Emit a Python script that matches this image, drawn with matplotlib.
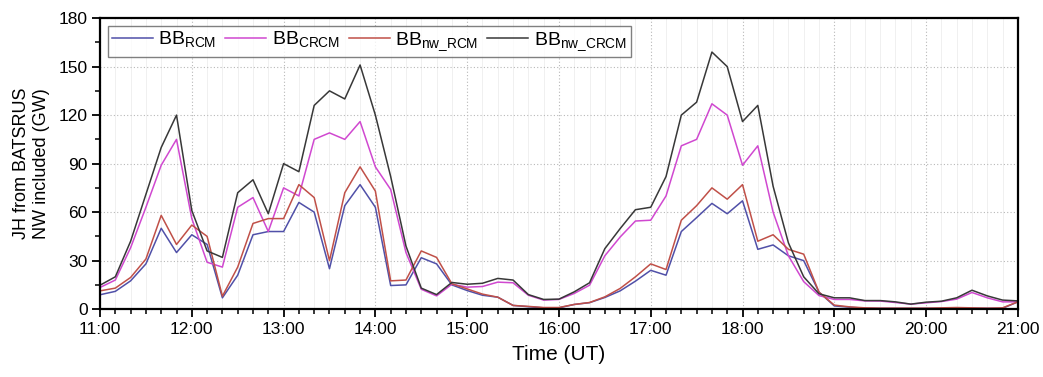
import matplotlib
matplotlib.use('Agg')
import matplotlib.pyplot as plt
from matplotlib.ticker import MultipleLocator, FuncFormatter

plt.rcParams['font.family'] = ['Liberation Sans', 'DejaVu Sans']
plt.rcParams['mathtext.fontset'] = 'custom'
plt.rcParams['mathtext.rm'] = 'Liberation Sans'

# 10-minute samples from 11:00 to 21:00 UT
start_hour = 11
step_min = 10

jh_rcm = [8.9, 11, 17.5, 28, 50, 35, 46, 40, 7, 21, 46, 48, 48, 66, 60, 25, 64, 77, 63,
          14.6, 15, 31.8, 28, 15, 11.5, 8.6, 7.4, 2.3, 1.5, 0.8, 0.8, 2.9, 4, 7.2, 11.3,
          17.3, 24, 21, 48, 56.6, 65.4, 59, 67, 37, 39.7, 33, 30, 10.5, 2, 1.2, 0.6, 0.5,
          0.5, 0.5, 0.5, 0.5, 0.5, 0.5, 0.5, 0.5, 4.5]
jh_crcm = [13.4, 18, 38, 63, 89, 105, 56, 29, 26, 63, 69, 48, 75, 70, 105, 109, 105, 116, 88,
           74, 35, 12.3, 8.2, 15.4, 13.6, 14, 16.7, 16.3, 8.6, 5.6, 6, 9.7, 14.8, 33, 44.6,
           54.5, 55, 70, 101, 105, 127, 120, 89, 101, 60, 33, 17, 8.4, 6, 6, 5.1, 5, 4.1,
           3.1, 3.9, 4.7, 6.2, 10.3, 7, 4.5, 4.5]
jh_nw_rcm = [11.3, 13, 19.6, 31, 58, 40, 52, 45, 8, 26, 53, 56, 56, 77, 69, 30, 72, 88, 73,
             17.5, 18, 36, 32, 15.7, 12.5, 9.3, 7.4, 2.3, 1.7, 1, 1, 2.9, 4.1, 7.6, 12.8,
             20, 28, 24.5, 55, 64, 75, 68, 77, 42, 46, 37, 34, 10.5, 2.5, 1.4, 0.8, 0.6,
             0.6, 0.6, 0.6, 0.8, 1, 0.8, 0.6, 0.8, 4.5]
jh_nw_crcm = [14.8, 20, 42, 71, 100, 120, 61, 36, 32, 72, 80, 59, 90, 85, 126, 135, 130, 151,
              120, 82, 39, 13, 9, 16.5, 15.4, 16, 19, 18, 9, 6, 6.2, 10.7, 16.3, 37.4, 49.8,
              61.5, 63, 82, 120, 128, 159, 150, 116, 126, 76, 41, 20, 9.5, 7, 7, 5.3, 5.3,
              4.5, 3.1, 4.3, 4.9, 7, 11.7, 8.2, 5.6, 5.1]

labels = ['BB$_{\\rm RCM}$', 'BB$_{\\rm CRCM}$', 'BB$_{\\rm nw\\_RCM}$', 'BB$_{\\rm nw\\_CRCM}$']
colors = ['#5050a8', '#d048d0', '#c05048', '#383838']

hours = [start_hour + i * step_min / 60 for i in range(len(jh_rcm))]

fig = plt.figure(figsize=(10.43, 3.77), dpi=100)
ax = fig.add_axes([0.0959, 0.180, 0.880, 0.772])

for series, lab, col in zip([jh_rcm, jh_crcm, jh_nw_rcm, jh_nw_crcm], labels, colors):
    ax.plot(hours, series, color=col, lw=1.1, label=lab)

ax.set_xlim(11, 21)
ax.set_ylim(0, 180)
ax.xaxis.set_major_locator(MultipleLocator(1))
ax.xaxis.set_minor_locator(MultipleLocator(1 / 6))
ax.yaxis.set_major_locator(MultipleLocator(30))
ax.yaxis.set_minor_locator(MultipleLocator(15))
ax.xaxis.set_major_formatter(FuncFormatter(lambda v, p: '%d:00' % round(v)))

ax.grid(which='major', color='#b8b8b8', lw=0.8, ls=(0, (1, 2)))
ax.grid(which='minor', axis='x', color='#eeeeee', lw=0.6)
ax.set_axisbelow(True)

for s in ax.spines.values():
    s.set_linewidth(1.6)
ax.tick_params(which='major', direction='out', length=6, width=1.3, labelsize=12.5, pad=3)
ax.tick_params(which='minor', direction='out', length=3.5, width=1.1)

ax.set_xlabel('Time (UT)', fontsize=15, labelpad=6)
ax.set_ylabel('JH from BATSRUS\nNW included (GW)', fontsize=13, labelpad=6)

leg = ax.legend(loc='upper left', ncol=4, fontsize=14, frameon=True, fancybox=False,
                edgecolor='#606060', handlelength=2.1, handletextpad=0.3,
                columnspacing=0.45, borderpad=0.2, borderaxespad=0.4)
leg.get_frame().set_linewidth(1.0)

fig.savefig('out.png', dpi=100)
